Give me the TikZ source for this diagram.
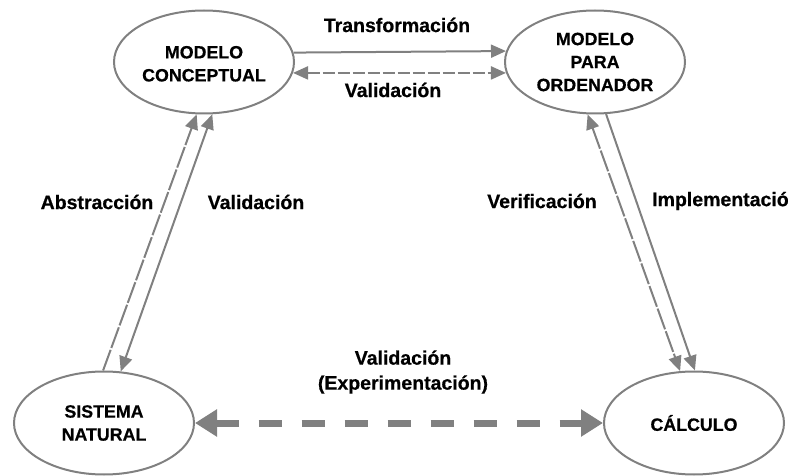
\documentclass[tikz,border=0pt]{standalone}
\usepackage{fontspec}
\setmainfont{Liberation Sans}
\newfontfamily\heavy{Liberation Sans Bold}[FakeBold=0.6]
\usetikzlibrary{shapes.geometric,arrows.meta}
\definecolor{linegray}{RGB}{128,128,128}
\tikzset{
  stage/.style={ellipse, draw=linegray, line width=2pt, inner sep=0pt,
    minimum width=180pt, minimum height=103pt, align=center,
    font=\heavy\fontsize{17.8}{23}\selectfont},
  tip/.style={Triangle[length=15pt,width=13pt]},
  flow/.style={draw=linegray, line width=2pt, -{Triangle[length=15pt,width=13pt]}},
  twoway/.style={draw=linegray, line width=2pt,
    {Triangle[length=15pt,width=13pt]}-{Triangle[length=15pt,width=13pt]}},
  finedash/.style={dash pattern=on 12pt off 3pt},
  sparsedash/.style={dash pattern=on 22pt off 2pt},
  bigdash/.style={draw=linegray, line width=7pt, dash pattern=on 23pt off 20pt,
    {Triangle[length=22pt,width=26pt]}-{Triangle[length=22pt,width=26pt]}},
  tag/.style={font=\heavy\fontsize{19.5}{25}\selectfont, inner sep=0pt}
}
\begin{document}
\begin{tikzpicture}[x=1pt,y=-1pt]
  \useasboundingbox (0,0) rectangle (788,476);

  % the four stages
  \node[stage] (mc)  at (204,62)  {\rule{0pt}{16pt}MODELO\\CONCEPTUAL};
  \node[stage] (mpo) at (595,62)  {MODELO\\PARA\\ORDENADOR};
  \node[stage] (sn)  at (104,423) {SISTEMA\\NATURAL};
  \node[stage] (cal) at (694,423) {CÁLCULO};

  % top pair
  \draw[flow]   (mc.6.4)   -- (mpo.173.6);
  \draw[twoway, finedash] (mc.-7.1) -- (mpo.187.1);

  % left pair
  \draw[flow, sparsedash] (sn.91) -- (mc.262.2);
  \draw[twoway] (sn.72.9) -- (mc.-81.1);

  % right pair
  \draw[twoway, sparsedash] (mpo.262.2) -- (cal.105);
  \draw[flow] (mpo.-78.9) -- (cal.89);

  % bottom
  \draw[bigdash] (sn.east) -- (cal.west);

  % labels
  \node[tag] (t1) at (397,25)  {Transformación};
  \node[tag] (t2) at (393,90)  {Validación};
  \node[tag] (t3) at (97,202)  {Abstracción};
  \node[tag] (t4) at (256,202) {Validación};
  \node[tag] (t5) at (542,201) {Verificación};
  \node[tag, anchor=west] (t6) at (652,201) {Implementación};
  \node[tag, align=center] (t7) at (403,372) {Validación\\(Experimentación)};
\end{tikzpicture}
\end{document}
